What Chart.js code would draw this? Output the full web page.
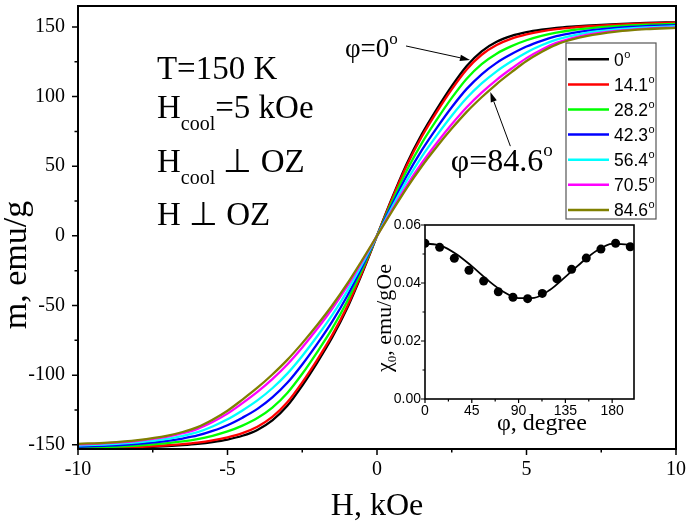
<!DOCTYPE html>
<html><head><meta charset="utf-8">
<script src="https://cdn.jsdelivr.net/npm/chart.js@4.4.0/dist/chart.umd.min.js"></script>
<style>
html,body{margin:0;padding:0;background:#fff;}
#wrap{position:relative;width:686px;height:522px;overflow:hidden;background:#fff;}
#main{position:absolute;left:0;top:0;}
#inset{position:absolute;left:360px;top:215px;}
</style></head><body>
<div id="wrap"><canvas id="main" width="686" height="522"></canvas><canvas id="inset" width="300" height="235"></canvas></div>
<script>
// ---- data ----
const fieldH = [-10,-9,-8,-7,-6.5,-6,-5.5,-5,-4.5,-4,-3.5,-3,-2.5,-2,-1.5,-1,-0.5,0,0.5,1,1.5,2,2.5,3,3.5,4,4.5,5,5.5,6,6.5,7,8,9,10];
const m_0  = [-153.3,-152.8,-152,-150.9,-150.2,-149.3,-148,-146.2,-143.5,-139.3,-132.5,-122,-107.5,-91,-73,-52,-27,0,27,52,73,91,107.5,122,132.5,139.3,143.5,146.2,148,149.3,150.2,150.9,152,152.8,153.3];
const m_14 = [-153.0,-152.5,-151.6,-150.3,-149.5,-148.4,-146.8,-144.6,-141.6,-137.0,-130.0,-119.5,-105.2,-89.0,-71.3,-50.7,-26.3,0,26.3,50.7,71.3,89.0,105.2,119.5,130.0,137.0,141.6,144.6,146.8,148.4,149.5,150.3,151.6,152.5,153.0];
const m_28 = [-152.2,-151.6,-150.5,-148.8,-147.6,-145.9,-143.5,-140.4,-136.2,-130.8,-123.3,-112.8,-99.0,-83.4,-66.6,-47.1,-24.3,0,24.3,47.1,66.6,83.4,99.0,112.8,123.3,130.8,136.2,140.4,143.5,145.9,147.6,148.8,150.5,151.6,152.2];
const m_42 = [-151.3,-150.6,-149.3,-147.2,-145.5,-143.3,-140,-135.9,-130.5,-124.2,-116,-105.5,-92.3,-77.5,-61.5,-43.3,-22.3,0,22.3,43.3,61.5,77.5,92.3,105.5,116,124.2,130.5,135.9,140,143.3,145.5,147.2,149.3,150.6,151.3];
const m_56 = [-150.5,-149.7,-148.2,-145.7,-143.6,-140.9,-136.8,-131.7,-125.3,-118.1,-109.4,-98.9,-86.2,-72.1,-56.9,-39.8,-20.4,0,20.4,39.8,56.9,72.1,86.2,98.9,109.4,118.1,125.3,131.7,136.8,140.9,143.6,145.7,148.2,149.7,150.5];
const m_70 = [-149.7,-148.8,-147.1,-144.2,-141.7,-138.5,-133.6,-127.6,-120.1,-112.0,-102.8,-92.3,-80.1,-66.7,-52.3,-36.3,-18.5,0,18.5,36.3,52.3,66.7,80.1,92.3,102.8,112.0,120.1,127.6,133.6,138.5,141.7,144.2,147.1,148.8,149.7];
const m_84 = [-149.3,-148.4,-146.6,-143.4,-140.8,-137.3,-132,-125.5,-117.5,-109,-99.5,-89,-77,-64,-50,-34.5,-17.5,0,17.5,34.5,50,64,77,89,99.5,109,117.5,125.5,132,137.3,140.8,143.4,146.6,148.4,149.3];
const seriesLabels = ['0°','14.1°','28.2°','42.3°','56.4°','70.5°','84.6°'];
const seriesColors = ['#000000','#ff0000','#00ff00','#0000ff','#00ffff','#ff00ff','#808000'];
const seriesValues = [m_0,m_14,m_28,m_42,m_56,m_70,m_84];
const xTicksMain = [-10,-5,0,5,10];
const yTicksMain = [-150,-100,-50,0,50,100,150];

const phiPoints = [0,14.1,28.2,42.3,56.4,70.5,84.6,98.7,112.8,126.9,141.0,155.1,169.2,183.3,197.4];
const chiPoints = [0.0537,0.0523,0.0485,0.0444,0.0407,0.0370,0.0351,0.0346,0.0364,0.0414,0.0447,0.0486,0.0517,0.0537,0.0525];
const phiFit = [0,15,30,45,60,75,90,105,120,135,150,165,180,195,201];
const chiFit = [0.0536,0.0529,0.0500,0.0458,0.0411,0.0371,0.0348,0.0349,0.0376,0.0421,0.0469,0.0511,0.0535,0.0532,0.0525];
const xTicksInset = [0,45,90,135,180];
const yTicksInset = [0,0.02,0.04,0.06];

// ---- fonts ----
const SERIF = '"Liberation Serif","Times New Roman",serif';
const SANS = '"Liberation Sans",Arial,sans-serif';

function runs(ctx, x, y, parts){
  for (const [t, size, dy] of parts){
    ctx.font = size + 'px ' + SERIF;
    ctx.fillText(t, x, y + dy);
    x += ctx.measureText(t).width;
  }
  return x;
}
function arrow(ctx, x1, y1, x2, y2){
  const ang = Math.atan2(y2 - y1, x2 - x1), L = 10, W = 3.2;
  ctx.beginPath(); ctx.moveTo(x1, y1);
  ctx.lineTo(x2 - L*Math.cos(ang), y2 - L*Math.sin(ang)); ctx.stroke();
  ctx.beginPath(); ctx.moveTo(x2, y2);
  ctx.lineTo(x2 - L*Math.cos(ang) + W*Math.sin(ang), y2 - L*Math.sin(ang) - W*Math.cos(ang));
  ctx.lineTo(x2 - L*Math.cos(ang) - W*Math.sin(ang), y2 - L*Math.sin(ang) + W*Math.cos(ang));
  ctx.closePath(); ctx.fill();
}
function noPad(s){ s.paddingLeft = 0; s.paddingRight = 0; s.paddingTop = 0; s.paddingBottom = 0; }

const mainDecor = {
  id: 'mainDecor',
  afterDraw(chart){
    const {ctx, chartArea: a, scales: {x, y}} = chart;
    ctx.save();
    ctx.strokeStyle = '#000'; ctx.fillStyle = '#000';
    // ticks
    ctx.lineWidth = 1.5; ctx.beginPath();
    for (let i = 0; i <= 8; i++){
      const v = -10 + i*2.5, px = x.getPixelForValue(v), len = (i % 2 === 0) ? 6 : 3.5;
      ctx.moveTo(px, a.bottom); ctx.lineTo(px, a.bottom + len);
    }
    for (let i = 0; i <= 12; i++){
      const v = -150 + i*25, py = y.getPixelForValue(v), len = (i % 2 === 0) ? 6 : 3.5;
      ctx.moveTo(a.left, py); ctx.lineTo(a.left - len, py);
    }
    ctx.stroke();
    ctx.lineWidth = 2;
    ctx.strokeRect(a.left, a.top, a.right - a.left, a.bottom - a.top);

    // axis titles
    ctx.textAlign = 'center'; ctx.textBaseline = 'alphabetic';
    ctx.font = '32px ' + SERIF;
    ctx.fillText('H, kOe', x.getPixelForValue(0), 515);
    ctx.save();
    ctx.translate(26, 265); ctx.rotate(-Math.PI/2);
    ctx.font = '34px ' + SERIF;
    ctx.fillText('m, emu/g', 0, 0);
    ctx.restore();

    // annotations
    ctx.textAlign = 'left';
    const tx = x.getPixelForValue(-7.36);
    runs(ctx, tx, y.getPixelForValue(112.4), [['T=150 K', 33, 0]]);
    runs(ctx, tx, y.getPixelForValue(84.3), [['H', 33, 0], ['cool', 20, 12], ['=5 kOe', 33, 0]]);
    runs(ctx, tx, y.getPixelForValue(45.9), [['H', 33, 0], ['cool', 20, 12], [' \u22A5 OZ', 33, 0]]);
    runs(ctx, tx, y.getPixelForValue(7.6), [['H \u22A5 OZ', 33, 0]]);

    runs(ctx, x.getPixelForValue(-1.07), y.getPixelForValue(128.6), [['\u03C6=0', 27, 0], ['o', 17, -13]]);
    runs(ctx, x.getPixelForValue(2.47), y.getPixelForValue(46.4), [['\u03C6=84.6', 32, 0], ['o', 19, -15]]);

    ctx.lineWidth = 1;
    arrow(ctx, x.getPixelForValue(0.97), y.getPixelForValue(136.3), x.getPixelForValue(3.11), y.getPixelForValue(126.3));
    arrow(ctx, x.getPixelForValue(4.46), y.getPixelForValue(64.4), x.getPixelForValue(3.79), y.getPixelForValue(103.2));

    // legend
    const lx = 566, ly = 43, lw = 90, lh = 176;
    ctx.fillStyle = '#fff'; ctx.fillRect(lx, ly, lw, lh);
    ctx.strokeStyle = '#555'; ctx.lineWidth = 1.2; ctx.strokeRect(lx, ly, lw, lh);
    chart.data.datasets.forEach((ds, i) => {
      const cy = 59.3 + i*25.1;
      ctx.strokeStyle = ds.borderColor; ctx.lineWidth = 2.5;
      ctx.beginPath(); ctx.moveTo(568, cy); ctx.lineTo(609, cy); ctx.stroke();
      ctx.fillStyle = '#000';
      ctx.font = '17.5px ' + SANS;
      const t = ds.label.replace('°', '');
      ctx.fillText(t, 614, cy + 6.5);
      const w = ctx.measureText(t).width;
      ctx.font = '11px ' + SANS;
      ctx.fillText('o', 614 + w + 0.5, cy - 1.5);
    });
    ctx.restore();
  }
};

new Chart(document.getElementById('main'), {
  type: 'scatter',
  data: {
    datasets: seriesValues.map((vals, i) => ({
      label: seriesLabels[i],
      data: fieldH.map((h, k) => ({x: h, y: vals[k]})),
      borderColor: seriesColors[i],
      backgroundColor: seriesColors[i],
      showLine: true, pointRadius: 0, borderWidth: 2.3,
      cubicInterpolationMode: 'monotone',
      order: seriesValues.length - i
    }))
  },
  options: {
    responsive: false, animation: false, devicePixelRatio: 1,
    layout: {padding: {left: 0, top: 6, right: 10, bottom: 0}},
    plugins: {legend: {display: false}, tooltip: {enabled: false}},
    events: [],
    scales: {
      x: {
        type: 'linear', min: -10, max: 10,
        afterBuildTicks: s => { s.ticks = xTicksMain.map(v => ({value: v})); },
        afterFit: s => { s.height = 73; noPad(s); },
        grid: {display: false, drawTicks: false, tickLength: 0},
        border: {display: false},
        ticks: {padding: 9, color: '#000', font: {family: SERIF, size: 20}, maxRotation: 0, autoSkip: false, callback: v => String(v)}
      },
      y: {
        type: 'linear', min: -153, max: 165,
        afterBuildTicks: s => { s.ticks = yTicksMain.map(v => ({value: v})); },
        afterFit: s => { s.width = 78; noPad(s); },
        grid: {display: false, drawTicks: false, tickLength: 0},
        border: {display: false},
        ticks: {padding: 13, color: '#000', font: {family: SERIF, size: 20}, autoSkip: false, callback: v => String(v)}
      }
    }
  },
  plugins: [mainDecor]
});

const insetDecor = {
  id: 'insetDecor',
  afterDraw(chart){
    const {ctx, chartArea: a, scales: {x, y}} = chart;
    ctx.save();
    ctx.strokeStyle = '#000'; ctx.fillStyle = '#000';
    ctx.lineWidth = 1.2; ctx.beginPath();
    for (let i = 0; i <= 8; i++){
      const px = x.getPixelForValue(i*22.5), len = (i % 2 === 0) ? 4 : 2.5;
      ctx.moveTo(px, a.bottom); ctx.lineTo(px, a.bottom + len);
    }
    for (let i = 0; i <= 6; i++){
      const py = y.getPixelForValue(i*0.01), len = (i % 2 === 0) ? 4 : 2.5;
      ctx.moveTo(a.left, py); ctx.lineTo(a.left - len, py);
    }
    ctx.stroke();
    ctx.lineWidth = 1.6;
    ctx.strokeRect(a.left, a.top, a.right - a.left, a.bottom - a.top);
    ctx.textAlign = 'left'; ctx.textBaseline = 'alphabetic';
    runs(ctx, 137, 215, [['\u03C6, degree', 24, 0]]);
    ctx.save();
    ctx.translate(31, 157); ctx.rotate(-Math.PI/2);
    runs(ctx, 0, 0, [['\u03C7', 22, 0], ['0', 13, 5], [', emu/gOe', 22, 0]]);
    ctx.restore();
    ctx.restore();
  }
};

new Chart(document.getElementById('inset'), {
  type: 'scatter',
  data: {
    datasets: [
      {label: 'points', data: phiPoints.map((p, k) => ({x: p, y: chiPoints[k]})),
       showLine: false, pointRadius: 4.5, pointBackgroundColor: '#000', pointBorderColor: '#000', borderWidth: 0, order: 0},
      {label: 'fit', data: phiFit.map((p, k) => ({x: p, y: chiFit[k]})),
       showLine: true, pointRadius: 0, borderColor: '#000', borderWidth: 1.8, cubicInterpolationMode: 'monotone', order: 1}
    ]
  },
  options: {
    responsive: false, animation: false, devicePixelRatio: 1,
    layout: {padding: {left: 0, top: 10, right: 26, bottom: 0}},
    plugins: {legend: {display: false}, tooltip: {enabled: false}},
    events: [],
    scales: {
      x: {
        type: 'linear', min: 0, max: 201,
        afterBuildTicks: s => { s.ticks = xTicksInset.map(v => ({value: v})); },
        afterFit: s => { s.height = 51; noPad(s); },
        grid: {display: false, drawTicks: false, tickLength: 0},
        border: {display: false},
        ticks: {padding: 4, color: '#000', font: {family: SANS, size: 14}, maxRotation: 0, autoSkip: false, callback: v => String(v)}
      },
      y: {
        type: 'linear', min: 0, max: 0.06,
        afterBuildTicks: s => { s.ticks = yTicksInset.map(v => ({value: v})); },
        afterFit: s => { s.width = 65; noPad(s); },
        grid: {display: false, drawTicks: false, tickLength: 0},
        border: {display: false},
        ticks: {padding: 4, color: '#000', font: {family: SANS, size: 14}, autoSkip: false, callback: v => Number(v).toFixed(2)}
      }
    }
  },
  plugins: [insetDecor]
});
</script>
</body></html>
